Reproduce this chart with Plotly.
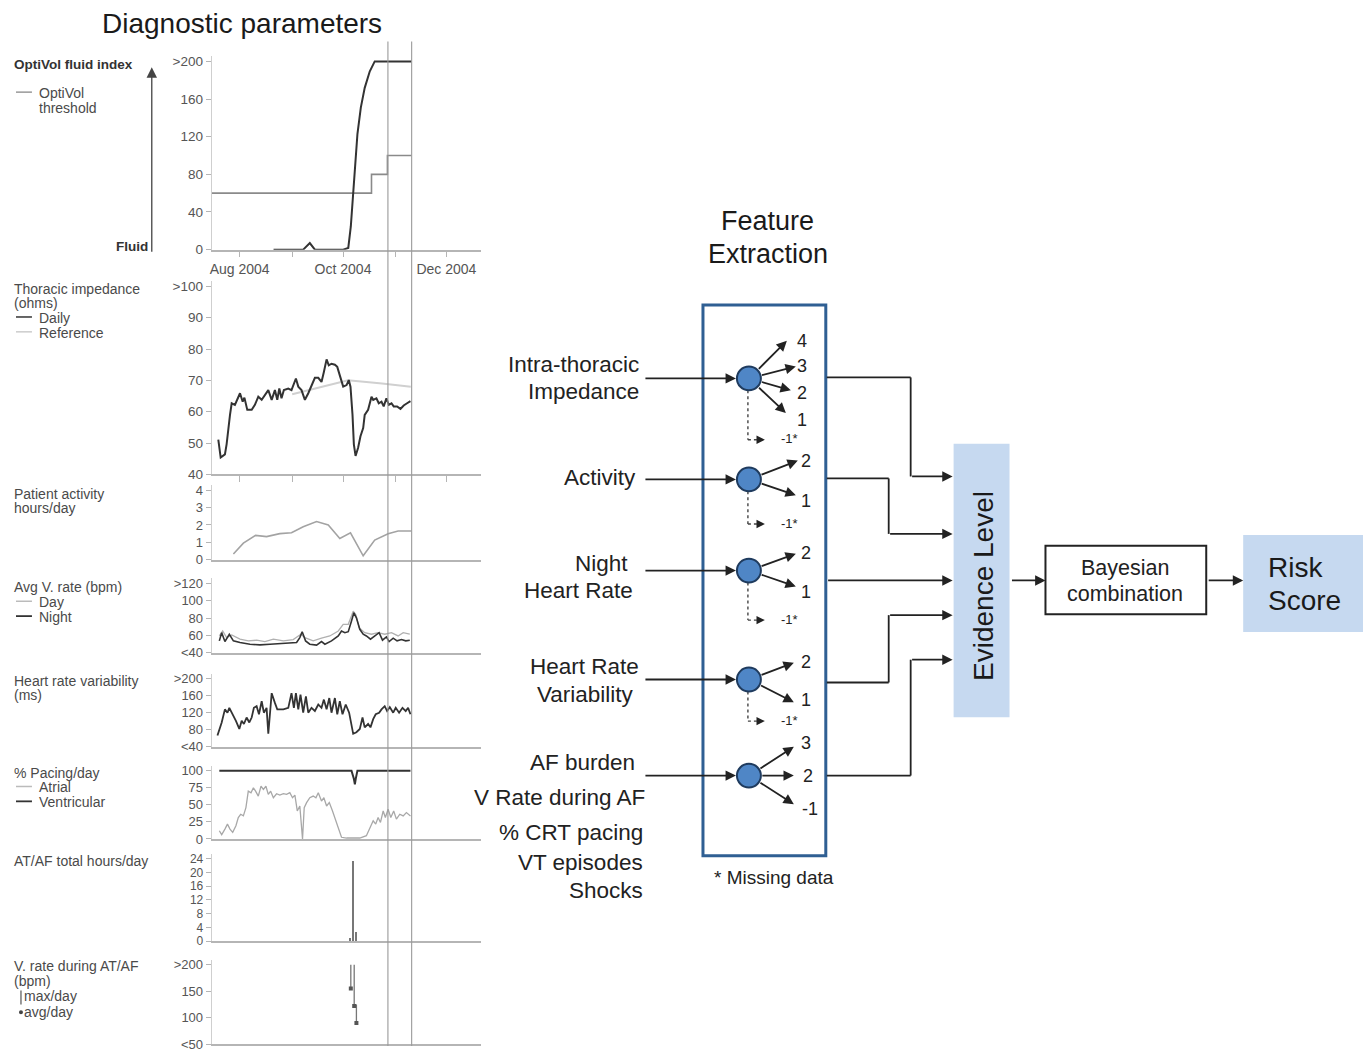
import plotly.graph_objects as go

W, H = 1369, 1054
FONT = "Liberation Sans, Arial, Helvetica, sans-serif"

# ---------------- data (x = days since 1 Aug 2004) ----------------
month_days = [0, 31, 61, 92, 122]
month_labels = ["Aug 2004", "", "Oct 2004", "", "Dec 2004"]
event_days = [87.5, 101.5]

fluid_days = [20, 36.5, 37.5, 41.4, 44.4, 61.1, 62.5, 64.1, 65.6, 67.0, 67.9, 69.5, 71.5, 73.8, 76.8, 79.7, 101.4]
fluid_index = [0, 0, 0, 7, 0, 0, 1, 1.8, 24.6, 59.6, 91.2, 122.8, 150.9, 171.9, 189.5, 200, 200]
thr_days = [-16.5, 77.8, 87.2, 101.4]
thr_values = [60, 80, 100, 100]

imp_days = [-12.6, -11.2, -8.7, -7.7, -5.7, -4.7, -2.8, 0.2, 1.8, 2.8,
            4.5, 7.1, 9.0, 11.0, 13.0, 14.9, 16.9, 18.9, 20.8, 22.2,
            23.4, 24.7, 26.1, 28.7, 30.6, 33.2, 34.6, 36.5, 38.5, 40.5,
            42.4, 44.4, 46.4, 48.3, 49.7, 51.3, 52.6, 54.2, 56.2, 57.6,
            59.1, 61.1, 63.1, 64.4, 65.4, 66.6, 67.4, 68.4, 69.9, 71.3,
            72.9, 73.8, 75.8, 77.8, 78.8, 80.7, 82.1, 83.7, 85.0, 86.6,
            88.0, 89.6, 90.9, 92.9, 94.9, 96.8, 98.8, 100.8]
imp_daily = [51.1, 45.4, 46.4, 49.6, 59.0, 62.7, 62.2, 65.9, 63.2, 64.5,
             60.6, 60.6, 62.2, 64.8, 63.8, 65.3, 66.9, 63.8, 66.9, 63.8,
             67.4, 64.3, 66.9, 67.4, 66.9, 70.6, 68.0, 66.9, 63.8, 65.9,
             68.5, 70.8, 70.8, 69.5, 72.7, 76.7, 74.8, 75.3, 75.0, 74.3,
             71.6, 68.0, 68.5, 70.1, 68.0, 59.0, 49.6, 45.9, 48.5, 52.2,
             54.8, 59.0, 60.6, 64.8, 63.8, 64.3, 62.7, 63.2, 61.7, 64.3,
             62.2, 62.7, 61.7, 61.7, 60.9, 62.0, 62.7, 63.4]
ref_days = [31, 48, 64, 84, 101]
imp_reference = [65.6, 67.8, 70.0, 69.0, 68.0]

act_days = [-3.7, 2.2, 9.4, 15.9, 23.7, 30.6, 37.5, 45.4, 52.3, 59.1, 65.4, 72.9, 79.7, 87.6, 93.5, 101.4]
act_hours = [0.33, 0.95, 1.4, 1.33, 1.5, 1.55, 1.9, 2.2, 2.0, 1.22, 1.55, 0.22, 1.13, 1.5, 1.65, 1.65]

night_days = [-12.0, -10.6, -8.7, -6.1, -3.7, 0.2, 6.1, 12.0, 17.9, 25.8,
              33.6, 35.5, 36.9, 38.9, 41.4, 45.4, 48.3, 50.3, 54.2, 58.2,
              60.1, 62.1, 64.1, 66.0, 67.4, 68.9, 70.9, 72.9, 74.8, 77.2,
              79.7, 82.3, 84.3, 86.6, 88.2, 90.6, 92.9, 95.5, 98.0, 100.4]
night_rate = [53.7, 63.2, 52.9, 61.4, 53.7, 51.8, 49.9, 49.1, 49.9, 50.6,
              51.8, 57.5, 64.3, 53.7, 49.9, 48.8, 52.9, 49.9, 53.7, 59.4,
              65.1, 63.2, 64.3, 76.6, 86.1, 80.3, 67.1, 61.4, 59.4, 55.7,
              59.4, 63.2, 54.5, 58.3, 52.9, 56.8, 53.7, 55.2, 53.7, 54.5]
day_days = [-12.0, -10.0, -7.7, -4.7, 0.2, 5.1, 10.0, 14.9, 19.9, 25.8,
            31.6, 36.1, 38.5, 43.4, 48.3, 53.2, 58.2, 61.1, 64.1, 67.0,
            68.5, 70.5, 73.8, 77.8, 81.7, 85.6, 89.6, 93.5, 96.5, 100.4]
day_rate = [59.4, 65.1, 57.5, 60.6, 55.7, 53.7, 54.5, 52.9, 55.7, 53.7,
            55.2, 61.4, 57.5, 53.7, 56.8, 59.4, 65.1, 72.8, 72.8, 88.0,
            84.2, 68.9, 63.2, 61.4, 63.2, 61.4, 63.2, 59.4, 63.2, 61.4]

hrv_days = [-13.1, -10.6, -8.7, -7.2, -6.1, -4.1, -2.2, -0.2, 1.2, 2.5,
            4.1, 5.7, 7.1, 8.4, 10.0, 11.4, 13.0, 14.3, 15.9, 16.9,
            18.9, 20.8, 22.2, 25.8, 28.7, 30.6, 32.0, 33.2, 34.6, 35.9,
            37.5, 39.1, 40.5, 42.4, 44.4, 46.4, 48.3, 49.7, 51.3, 52.9,
            54.2, 56.2, 57.6, 59.1, 60.7, 62.6, 64.6, 67.0, 68.9, 70.9,
            72.5, 73.8, 75.8, 77.2, 78.8, 80.3, 82.3, 83.7, 85.6, 87.0,
            88.6, 90.6, 92.1, 94.1, 96.1, 98.0, 99.4, 100.8]
hrv_ms = [66.7, 97.1, 127.8, 120, 131.4, 116.3, 101, 82, 101, 93.5,
          108.6, 97.1, 108.6, 131.4, 135.3, 116.3, 146.7, 120, 131.4, 70.6,
          165.7, 142.9, 127.8, 127.8, 131.4, 165.7, 131.4, 165.7, 127.8, 162,
          120, 158.2, 120, 131.4, 123.9, 139.2, 131.4, 150.6, 127.8, 154.3,
          120, 154.3, 116.3, 146.7, 116.3, 139.2, 120, 70.6, 74.3, 82,
          108.6, 85.7, 93.5, 85.7, 105, 116.3, 120, 127.8, 135.3, 123.9,
          133, 120, 131.4, 120, 131.4, 123.9, 131.4, 116.3]

vpace_days = [-12.0, 66.0, 67.4, 68.0, 68.5, 69.5, 100.8]
vpace_pct = [100, 100, 88, 80, 88, 100, 100]
apace_days = [-12.0, -10.6, -8.7, -7.2, -5.7, -4.1, -2.2, -0.8, 0.6, 2.2,
              3.7, 5.1, 6.7, 8.1, 9.4, 11.0, 12.6, 14.0, 15.5, 16.9,
              18.3, 19.9, 21.8, 23.7, 25.8, 27.7, 29.6, 31.2, 32.6, 34.0,
              35.5, 37.1, 38.1, 39.5, 41.4, 43.4, 45.0, 46.4, 48.3, 49.7,
              51.3, 52.9, 54.8, 56.2, 58.2, 60.1, 63.1, 70.9, 74.8, 76.8,
              78.8, 80.3, 81.7, 83.1, 84.7, 86.0, 87.6, 89.2, 90.9, 92.5,
              94.5, 96.5, 98.4, 100.8]
apace_pct = [12, 6.3, 14.5, 21.7, 14.5, 9.7, 19.3, 31.4, 36.2, 33.8,
             45.9, 70, 67.7, 74.9, 70, 62.8, 77.2, 72.5, 77.2, 65.2,
             70, 60.4, 66.2, 64.2, 66.2, 65.2, 67.7, 60.4, 64.2, 41,
             48.3, 0, 45.9, 53.2, 60.4, 62.8, 60.4, 67.7, 55.5, 60.4,
             48.3, 53.2, 41, 31.4, 17, 2.5, 1.4, 1.4, 4.8, 17,
             26.6, 21.7, 31.4, 24.2, 41, 31.4, 43.5, 31.4, 41, 29,
             36.2, 33.8, 38.6, 33.8]

af_days = [65.0, 67.0, 68.4]
af_hours = [0.9, 23.5, 2.8]

vr_days = [65.6, 67.6, 68.9]
vr_max = [200, 200, 125]
vr_avg = [155, 122, 90]

# ---------------- layout helpers ----------------
def X(px):
    return px / W


def Y(py):
    return 1 - py / H


fig = go.Figure()

XL, XR = 210, 480
DAY_LEFT, DAY_RIGHT = -16.5, 142.6
PAD = 5

panels = [
    dict(top=60, bottom=250, vmin=0, vmax=200, tv=[0, 40, 80, 120, 160, 200],
         tt=["0", "40", "80", "120", "160", ">200"], fs=13.5),
    dict(top=287, bottom=477, vmin=40, vmax=100, tv=[40, 50, 60, 70, 80, 90, 100],
         tt=["40", "50", "60", "70", "80", "90", ">100"], fs=13.5),
    dict(top=493, bottom=563, vmin=0, vmax=4, tv=[0, 1, 2, 3, 4], tt=["0", "1", "2", "3", "4"], fs=13),
    dict(top=587, bottom=657, vmin=40, vmax=120, tv=[40, 60, 80, 100, 120],
         tt=["<40", "60", "80", "100", ">120"], fs=13),
    dict(top=683, bottom=752, vmin=40, vmax=200, tv=[40, 80, 120, 160, 200],
         tt=["<40", "80", "120", "160", ">200"], fs=13),
    dict(top=776, bottom=845, vmin=0, vmax=100, tv=[0, 25, 50, 75, 100],
         tt=["0", "25", "50", "75", "100"], fs=13),
    dict(top=865, bottom=948, vmin=0, vmax=24, tv=[0, 4, 8, 12, 16, 20, 24],
         tt=["0", "4", "8", "12", "16", "20", "24"], fs=12),
    dict(top=972, bottom=1052, vmin=50, vmax=200, tv=[50, 100, 150, 200],
         tt=["<50", "100", "150", ">200"], fs=13),
]

AXC = "#b5b5b5"
for i, p in enumerate(panels, start=1):
    per_px = (p["vmax"] - p["vmin"]) / (p["bottom"] - p["top"])
    yr = [p["vmin"], p["vmax"] + PAD * per_px]
    ydom = [1 - p["bottom"] / H, 1 - (p["top"] - PAD) / H]
    xk = "xaxis" if i == 1 else f"xaxis{i}"
    yk = "yaxis" if i == 1 else f"yaxis{i}"
    xa = dict(domain=[X(XL), X(XR)], range=[DAY_LEFT, DAY_RIGHT], anchor="y" if i == 1 else f"y{i}",
              showline=True, linecolor=AXC, linewidth=1.5, showgrid=False, zeroline=False,
              fixedrange=True)
    if i in (1, 2):
        xa.update(tickmode="array", tickvals=month_days, ticktext=month_labels, ticks="outside",
                  ticklen=6, tickcolor=AXC, showticklabels=(i == 1),
                  tickfont=dict(size=14, color="#555"))
    else:
        xa.update(ticks="", showticklabels=False)
    ya = dict(domain=ydom, range=yr, anchor="x" if i == 1 else f"x{i}", showline=True,
              linecolor="#cfcfcf", linewidth=1, showgrid=False, zeroline=False,
              tickmode="array", tickvals=p["tv"], ticktext=p["tt"], ticks="outside", ticklen=5,
              tickcolor=AXC, tickfont=dict(size=p["fs"], color="#555"), fixedrange=True)
    fig.layout[xk] = xa
    fig.layout[yk] = ya


def ax_ids(i):
    return ("x" if i == 1 else f"x{i}", "y" if i == 1 else f"y{i}")


def add_line(i, x, y, color, width, shape="linear"):
    xa, ya = ax_ids(i)
    fig.add_trace(go.Scatter(x=x, y=y, mode="lines", xaxis=xa, yaxis=ya,
                             line=dict(color=color, width=width, shape=shape),
                             hoverinfo="skip", showlegend=False))


DARK = "#333333"
LIGHT = "#a3a3a3"

add_line(1, thr_days, thr_values, "#8a8a8a", 1.6, "hv")
add_line(1, fluid_days, fluid_index, DARK, 2.0)
add_line(2, ref_days, imp_reference, "#d0d0d0", 2.0)
add_line(2, imp_days, imp_daily, DARK, 2.0)
add_line(3, act_days, act_hours, LIGHT, 1.6)
add_line(4, day_days, day_rate, "#b0b0b0", 1.3)
add_line(4, night_days, night_rate, DARK, 1.6)
add_line(5, hrv_days, hrv_ms, DARK, 1.8)
add_line(6, apace_days, apace_pct, "#a8a8a8", 1.3)
add_line(6, vpace_days, vpace_pct, DARK, 2.0)

fig.add_trace(go.Bar(x=af_days, y=af_hours, width=0.9, xaxis="x7", yaxis="y7",
                     marker=dict(color="#777777", line=dict(width=0)), hoverinfo="skip",
                     showlegend=False))

seg_x, seg_y = [], []
for d, lo, hi in zip(vr_days, vr_avg, vr_max):
    seg_x += [d, d, None]
    seg_y += [lo, hi, None]
fig.add_trace(go.Scatter(x=seg_x, y=seg_y, mode="lines", xaxis="x8", yaxis="y8",
                         line=dict(color="#777", width=1.3), hoverinfo="skip", showlegend=False))
fig.add_trace(go.Scatter(x=vr_days, y=vr_avg, mode="markers", xaxis="x8", yaxis="y8",
                         marker=dict(color="#555", size=4, symbol="square"), hoverinfo="skip",
                         showlegend=False))

shapes = []
# event lines spanning all panels
for d in event_days:
    shapes.append(dict(type="line", xref="x", yref="paper", x0=d, x1=d, y0=0, y1=Y(40),
                       line=dict(color="#9a9a9a", width=1.1)))


def pline(x0, y0, x1, y1, color="#222", width=1.8, dash=None):
    ln = dict(color=color, width=width)
    if dash:
        ln["dash"] = dash
    shapes.append(dict(type="line", xref="paper", yref="paper", x0=X(x0), y0=Y(y0), x1=X(x1), y1=Y(y1),
                       line=ln))


def prect(x0, y0, x1, y1, fill="rgba(0,0,0,0)", line_color=None, width=0):
    shapes.append(dict(type="rect", xref="paper", yref="paper", x0=X(x0), y0=Y(y1), x1=X(x1), y1=Y(y0),
                       fillcolor=fill, line=dict(color=line_color or "rgba(0,0,0,0)", width=width),
                       layer="below"))


annotations = []


def text(t, x, y, size=14, color="#444", xanchor="left", yanchor="middle", **kw):
    d = dict(text=t, x=X(x), y=Y(y), xref="paper", yref="paper", showarrow=False,
             xanchor=xanchor, yanchor=yanchor, font=dict(size=size, color=color, family=FONT))
    d.update(kw)
    annotations.append(d)


def arrow(xt, yt, xh, yh, color="#222", width=1.8, size=1.15):
    annotations.append(dict(text="", x=X(xh), y=Y(yh), xref="paper", yref="paper",
                            ax=xt - xh, ay=yt - yh, axref="pixel", ayref="pixel",
                            showarrow=True, arrowhead=2, arrowsize=size, arrowwidth=width,
                            arrowcolor=color, standoff=0, startstandoff=0))


# ---- left panel labels ----
LS = 14
LC = "#4a4a4a"
L0, L1 = 10, 35
text("Diagnostic parameters", 240, 22, size=28, color="#1a1a1a", xanchor="center")
text("<b>OptiVol fluid index</b>", L0, 63, size=13.5, color="#333")
pline(14, 91, 30, 91, color="#999", width=1.5)
text("OptiVol", L1, 92, size=LS, color=LC)
text("threshold", L1, 107, size=LS, color=LC)
text("<b>Fluid</b>", 148, 247, size=13.5, color="#333", xanchor="right")
arrow(150, 252, 150, 66, color="#444", width=1.3, size=1.6)

text("Thoracic impedance", L0, 290, size=LS, color=LC)
text("(ohms)", L0, 304, size=LS, color=LC)
pline(14, 318, 30, 318, color="#333", width=1.5)
text("Daily", L1, 319, size=LS, color=LC)
pline(14, 333, 30, 333, color="#ccc", width=1.5)
text("Reference", L1, 334, size=LS, color=LC)

text("Patient activity", L0, 497, size=LS, color=LC)
text("hours/day", L0, 511, size=LS, color=LC)

text("Avg V. rate (bpm)", L0, 591, size=LS, color=LC)
pline(14, 605, 30, 605, color="#bbb", width=1.5)
text("Day", L1, 606, size=LS, color=LC)
pline(14, 620, 30, 620, color="#333", width=1.8)
text("Night", L1, 621, size=LS, color=LC)

text("Heart rate variability", L0, 685, size=LS, color=LC)
text("(ms)", L0, 700, size=LS, color=LC)

text("% Pacing/day", L0, 778, size=LS, color=LC)
pline(14, 792, 30, 792, color="#bbb", width=1.5)
text("Atrial", L1, 793, size=LS, color=LC)
pline(14, 807, 30, 807, color="#333", width=1.8)
text("Ventricular", L1, 808, size=LS, color=LC)

text("AT/AF total hours/day", L0, 867, size=LS, color=LC)

text("V. rate during AT/AF", L0, 973, size=LS, color=LC)
text("(bpm)", L0, 988, size=LS, color=LC)
pline(19, 998, 19, 1012, color="#555", width=1.2)
text("max/day", 20, 1004, size=LS, color=LC)
shapes.append(dict(type="circle", xref="paper", yref="paper", x0=X(17), x1=X(21), y0=Y(1022), y1=Y(1018),
                   fillcolor="#444", line=dict(color="#444", width=0)))
text("avg/day", 20, 1020, size=LS, color=LC)

# ---- feature extraction diagram ----
BOX_BLUE = "#2f5f93"
NODE_FILL = "#4f86c6"
NODE_LINE = "#1f3b5e"
PALE = "#c6d9f0"

text("Feature", 767, 221, size=27, color="#1a1a1a", xanchor="center")
text("Extraction", 767, 254, size=27, color="#1a1a1a", xanchor="center")
prect(702, 306, 825, 862, line_color=BOX_BLUE, width=3)

input_labels = [
    [("Intra-thoracic", 640, 366), ("Impedance", 640, 393)],
    [("Activity", 637, 480)],
    [("Night", 629, 567), ("Heart Rate", 634, 594)],
    [("Heart Rate", 640, 671), ("Variability", 635, 699)],
    [("AF burden", 636, 768), ("V Rate during AF", 646, 803), ("% CRT pacing", 644, 838),
     ("VT episodes", 644, 869), ("Shocks", 644, 897)],
]
node_x = 748
node_y = [380, 482, 574, 684, 781]
node_out = [
    [("4", 786, 342, 801, 342), ("3", 795, 368, 801, 367), ("2", 790, 392, 801, 395), ("1", 785, 415, 801, 422)],
    [("2", 797, 463, 805, 463), ("1", 795, 498, 805, 504)],
    [("2", 795, 557, 805, 556), ("1", 795, 590, 805, 596)],
    [("2", 793, 667, 805, 666), ("1", 793, 707, 805, 705)],
    [("3", 793, 752, 805, 748), ("2", 793, 781, 807, 781), ("-1", 793, 810, 809, 815)],
]
missing_y = [442, 527, 624, 726, None]
R = 12

for labels in input_labels:
    for t, xr, yy in labels:
        text(t, xr, yy, size=22.5, color="#222", xanchor="right")

for k, cy in enumerate(node_y):
    arrow(643, cy, node_x - R - 1, cy)
    for lab, tx, ty, lx, ly in node_out[k]:
        dx, dy = tx - node_x, ty - cy
        n = (dx * dx + dy * dy) ** 0.5
        arrow(node_x + R * dx / n, cy + R * dy / n, tx, ty)
        text(lab, lx, ly, size=18, color="#222", xanchor="center")
    my = missing_y[k]
    if my is not None:
        pline(node_x - 1, cy + R, node_x - 1, my, color="#444", width=1.4, dash="dot")
        pline(node_x - 1, my, node_x + 9, my, color="#444", width=1.4, dash="dot")
        arrow(node_x + 7, my, node_x + 16, my, color="#222", width=1.4, size=1.2)
        text("-1*", 789, my - 1, size=13, color="#222", xanchor="center")
    shapes.append(dict(type="circle", xref="paper", yref="paper",
                       x0=X(node_x - R), x1=X(node_x + R), y0=Y(cy + R), y1=Y(cy - R),
                       fillcolor=NODE_FILL, line=dict(color=NODE_LINE, width=2)))

text("* Missing data", 773, 884, size=19, color="#222", xanchor="center")

# connections to evidence level
out_routes = [
    (379, 910, 479),
    (481, 888, 537),
    (584, None, 584),
    (687, 888, 619),
    (781, 910, 664),
]
EV_X = 952
for y_start, bend, y_end in out_routes:
    if bend is None:
        arrow(826, y_start, EV_X, y_end)
    else:
        pline(826, y_start, bend, y_start)
        pline(bend, y_start, bend, y_end)
        arrow(bend, y_end, EV_X, y_end)

prect(953, 446, 1009, 722, fill=PALE)
text("Evidence Level", 983, 590, size=28, color="#1a1a1a", xanchor="center", textangle=-90)

arrow(1010, 584, 1045, 584)
prect(1045, 549, 1206, 618, fill="white", line_color="#222", width=2)
text("Bayesian", 1125, 571, size=21.5, color="#222", xanchor="center")
text("combination", 1125, 598, size=21.5, color="#222", xanchor="center")
arrow(1207, 584, 1243, 584)
prect(1243, 538, 1363, 636, fill=PALE)
text("Risk", 1266, 571, size=28, color="#1a1a1a", xanchor="left")
text("Score", 1266, 604, size=28, color="#1a1a1a", xanchor="left")

fig.update_layout(
    width=W, height=H, margin=dict(l=0, r=0, t=0, b=0),
    paper_bgcolor="white", plot_bgcolor="rgba(0,0,0,0)",
    font=dict(family=FONT, color="#333"),
    showlegend=False, shapes=shapes, annotations=annotations, bargap=0,
)

fig.write_html("out.html")
